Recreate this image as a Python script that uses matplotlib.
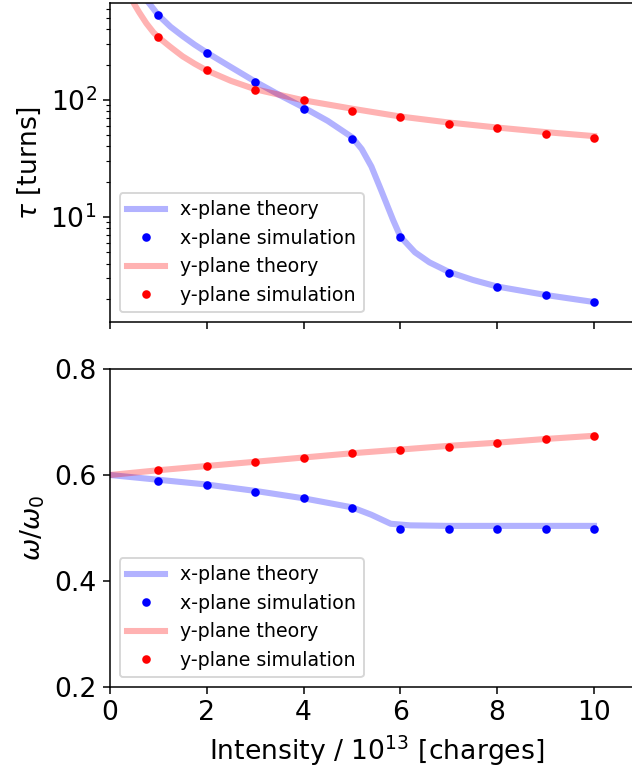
import numpy as np
import matplotlib
matplotlib.use('Agg')
import matplotlib.pyplot as plt

# simulation points (intensity in 1e13 charges)
I_sim = [1, 2, 3, 4, 5, 6, 7, 8, 9, 10]
tau_x_sim = [527, 253, 143, 84, 46, 6.8, 3.34, 2.55, 2.16, 1.88]
tau_y_sim = [342, 178, 122, 99, 80, 71, 62, 57, 51, 47.5]
w_x_sim = [0.589, 0.581, 0.568, 0.556, 0.538, 0.499, 0.499, 0.499, 0.499, 0.499]
w_y_sim = [0.609, 0.617, 0.625, 0.632, 0.641, 0.648, 0.653, 0.661, 0.668, 0.674]

# theory curves
I_tx = [0.7, 1, 1.25, 1.5, 1.75, 2, 2.5, 3, 3.5, 4, 4.5, 5, 5.2, 5.4, 5.6, 5.85, 6, 6.3, 6.6, 7, 7.5, 8, 9, 10]
tau_x_th = [760, 527, 420, 350, 295, 253, 190, 143, 110, 86, 66, 48, 38, 27, 17, 9.4, 6.8, 5.0, 4.1, 3.4, 2.9, 2.55, 2.16, 1.88]
I_ty = [0.4, 0.5, 0.6, 0.75, 0.9, 1, 1.25, 1.5, 1.75, 2, 2.5, 3, 4, 5, 6, 7, 8, 9, 10]
tau_y_th = [800, 657, 560, 450, 375, 342, 282, 235, 203, 178, 145, 123, 99, 84, 72, 64, 58, 53, 49]

I_wx = [0, 1, 2, 3, 4, 5, 5.4, 5.8, 6.2, 7, 8, 9, 10]
w_x_th = [0.600, 0.591, 0.582, 0.570, 0.556, 0.539, 0.525, 0.508, 0.505, 0.504, 0.504, 0.504, 0.504]
I_wy = [0, 1, 2, 3, 4, 5, 6, 7, 8, 9, 10]
w_y_th = [0.600, 0.609, 0.617, 0.625, 0.633, 0.641, 0.648, 0.655, 0.661, 0.668, 0.674]

plt.rcParams['font.size'] = 14
fig = plt.figure(figsize=(632 / 137, 772 / 137), dpi=137)
W, H = 632, 772
ax1 = fig.add_axes([110 / W, (H - 322) / H, 11 * 48.4 / W, 319 / H])
ax2 = fig.add_axes([110 / W, (H - 687) / H, 11 * 48.4 / W, 318 / H], sharex=ax1)

ax1.semilogy(I_tx, tau_x_th, 'b-', lw=3.2, alpha=0.3, label='x-plane theory')
ax1.semilogy(I_sim, tau_x_sim, 'b.', ms=7, label='x-plane simulation')
ax1.semilogy(I_ty, tau_y_th, 'r-', lw=3.2, alpha=0.3, label='y-plane theory')
ax1.semilogy(I_sim, tau_y_sim, 'r.', ms=7, label='y-plane simulation')
ax1.set_ylim(1.27, 670)
ax1.set_ylabel(r'$\tau$ [turns]')
ax1.legend(loc='lower left', fontsize=10)
ax1.tick_params(labelbottom=False)

ax2.plot(I_wx, w_x_th, 'b-', lw=3.2, alpha=0.3, label='x-plane theory')
ax2.plot(I_sim, w_x_sim, 'b.', ms=7, label='x-plane simulation')
ax2.plot(I_wy, w_y_th, 'r-', lw=3.2, alpha=0.3, label='y-plane theory')
ax2.plot(I_sim, w_y_sim, 'r.', ms=7, label='y-plane simulation')
ax2.set_ylim(0.2, 0.8)
ax2.set_yticks([0.2, 0.4, 0.6, 0.8])
ax2.set_xlim(0, 11)
ax2.set_xticks([0, 2, 4, 6, 8, 10])
ax2.set_xlabel(r'Intensity / $10^{13}$ [charges]')
ax2.set_ylabel(r'$\omega/\omega_0$')
ax2.legend(loc='lower left', fontsize=10)

fig.savefig('out.png', dpi=137)
